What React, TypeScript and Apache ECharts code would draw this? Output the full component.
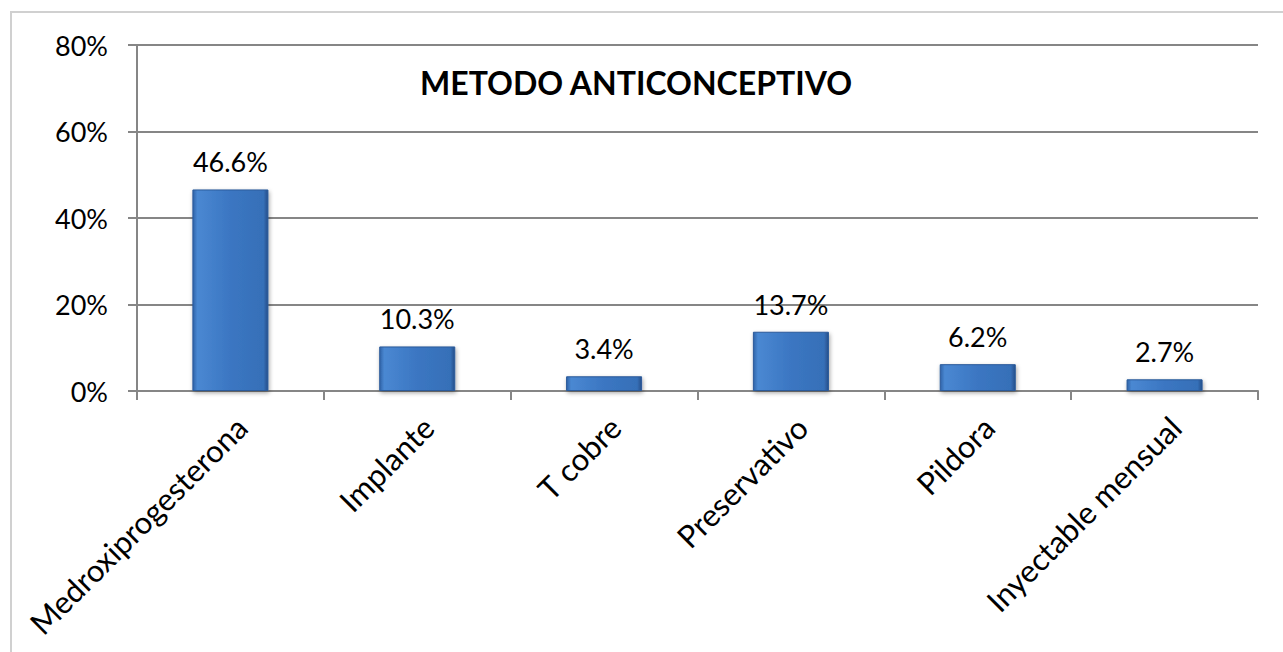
import React, { useEffect, useRef } from "react";
import * as echarts from "echarts";

const categories = ["Medroxiprogesterona", "Implante", "T cobre", "Preservativo", "Pildora", "Inyectable mensual"];
const values = [46.6, 10.3, 3.4, 13.7, 6.2, 2.7];
const yTicks = [0, 20, 40, 60, 80];
const title = "METODO ANTICONCEPTIVO";

export default function App() {
  const ref = useRef<HTMLDivElement>(null);
  useEffect(() => {
    document.body.style.margin = "0";
    const chart = echarts.init(ref.current!, null, { renderer: "svg" });
    const font = "Lato, 'Open Sans', sans-serif";
    chart.setOption({
      animation: false,
      backgroundColor: "#ffffff",
      graphic: [
        {
          type: "rect",
          shape: { x: 11, y: 12, width: 1290, height: 700 },
          style: { fill: "none", stroke: "#d0d0d0", lineWidth: 2 },
          silent: true,
        },
      ],
      title: {
        text: title,
        left: 631,
        top: 61,
        textAlign: "center",
        textStyle: { fontFamily: font, fontWeight: "bold", fontSize: 32, color: "#000" },
      },
      grid: { left: 137, right: 25, top: 45, bottom: 261, containLabel: false },
      xAxis: {
        type: "category",
        data: categories,
        axisLine: { lineStyle: { color: "#868686", width: 2 } },
        axisTick: { show: true, length: 9, alignWithLabel: false, lineStyle: { color: "#868686", width: 2 } },
        axisLabel: {
          rotate: 45,
          interval: 0,
          margin: 20,
          verticalAlign: "top",
          fontFamily: font,
          fontSize: 31,
          color: "#000",
        },
      },
      yAxis: {
        type: "value",
        min: yTicks[0],
        max: yTicks[yTicks.length - 1],
        interval: 20,
        axisLine: { show: true, lineStyle: { color: "#868686", width: 2 } },
        axisTick: { show: true, length: 9, lineStyle: { color: "#868686", width: 2 } },
        splitLine: { lineStyle: { color: "#868686", width: 2 } },
        axisLabel: {
          formatter: (v: number) => v + "%",
          margin: 29,
          fontFamily: font,
          fontSize: 27,
          color: "#000",
        },
      },
      series: [
        {
          type: "bar",
          data: values,
          barWidth: "40.7%",
          itemStyle: {
            color: new echarts.graphic.LinearGradient(0, 0, 1, 0, [
              { offset: 0, color: "#2f63a8" },
              { offset: 0.06, color: "#4a88d2" },
              { offset: 0.5, color: "#3b76c2" },
              { offset: 0.94, color: "#3670b8" },
              { offset: 1, color: "#264f8a" },
            ]),
            borderColor: "#2a5a9a",
            borderWidth: 1,
            shadowColor: "rgba(0,0,0,0.35)",
            shadowBlur: 4,
            shadowOffsetX: 1,
            shadowOffsetY: 2,
          },
          label: {
            show: true,
            position: "top",
            distance: 14,
            formatter: (p: any) => p.value.toFixed(1) + "%",
            fontFamily: font,
            fontSize: 27,
            color: "#000",
          },
        },
      ],
    });
    return () => chart.dispose();
  }, []);
  return <div ref={ref} style={{ width: 1283, height: 652 }} />;
}
